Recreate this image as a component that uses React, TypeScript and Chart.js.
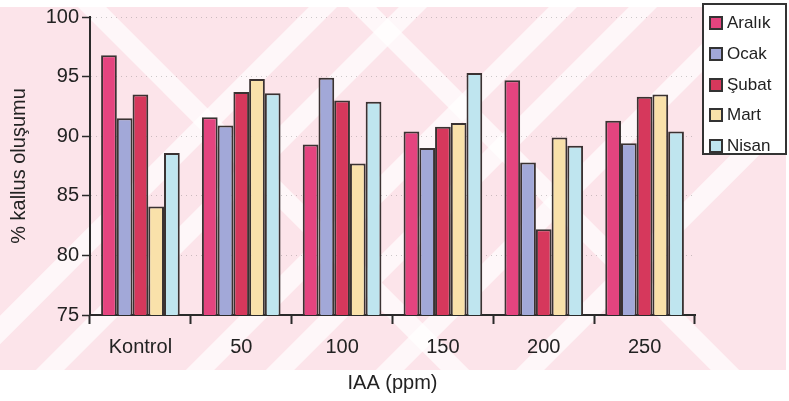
import React, { useEffect, useRef } from "react";
import { Chart, registerables } from "chart.js";

Chart.register(...registerables);

const categories = ["Kontrol", "50", "100", "150", "200", "250"];
const seriesNames = ["Aralık", "Ocak", "Şubat", "Mart", "Nisan"];
const aralik = [96.8, 91.6, 89.3, 90.4, 94.7, 91.3];
const ocak = [91.5, 90.9, 94.9, 89.0, 87.8, 89.4];
const subat = [93.5, 93.7, 93.0, 90.8, 82.2, 93.3];
const mart = [84.1, 94.8, 87.7, 91.1, 89.9, 93.5];
const nisan = [88.6, 93.6, 92.9, 95.3, 89.2, 90.4];
const yMin = 75;
const yMax = 100;
const yStep = 5;
const xTitle = "IAA (ppm)";
const yTitle = "% kallus oluşumu";

const seriesValues = [aralik, ocak, subat, mart, nisan];
const colors = ["#e4447f", "#a2a8d8", "#d6385c", "#f9e1aa", "#bfe5ef"];
const FONT = "'Liberation Sans', Arial, Helvetica, sans-serif";

const bgPlugin = {
  id: "scanBg",
  beforeDraw(chart: any) {
    const ctx = chart.ctx as CanvasRenderingContext2D;
    ctx.save();
    ctx.fillStyle = "#ffffff";
    ctx.fillRect(0, 0, chart.width, chart.height);
    ctx.beginPath();
    ctx.rect(0, 7, 786, 363);
    ctx.clip();
    ctx.fillStyle = "#fce4ea";
    ctx.fillRect(0, 7, 786, 363);
    ctx.strokeStyle = "rgba(255,255,255,0.7)";
    ctx.lineWidth = 20;
    for (const c of [330, 420, 570, 650, 760, 900]) {
      ctx.beginPath();
      ctx.moveTo(c, 0);
      ctx.lineTo(c - 420, 420);
      ctx.stroke();
    }
    for (const c of [85, 355]) {
      ctx.beginPath();
      ctx.moveTo(c, 0);
      ctx.lineTo(c + 420, 420);
      ctx.stroke();
    }
    ctx.restore();
  },
};

export default function App() {
  const ref = useRef<HTMLCanvasElement | null>(null);

  useEffect(() => {
    if (!ref.current) return;
    const chart = new Chart(ref.current, {
      type: "bar",
      data: {
        labels: categories,
        datasets: seriesNames.map((name, i) => ({
          label: name,
          data: seriesValues[i],
          backgroundColor: colors[i],
          borderColor: "#3a3232",
          borderWidth: 2,
          borderSkipped: "start",
          categoryPercentage: 0.78,
          barPercentage: 1,
        })),
      },
      options: {
        animation: false,
        responsive: false,
        maintainAspectRatio: false,
        layout: { padding: { left: 0, top: 17, right: 94, bottom: 0 } },
        plugins: {
          legend: { display: false },
          tooltip: { enabled: false },
        },
        scales: {
          x: {
            grid: {
              display: true,
              drawOnChartArea: false,
              drawTicks: true,
              tickLength: 9,
              tickColor: "#2a2a2a",
              tickWidth: 2,
              offset: true,
            },
            border: { display: true, color: "#2a2a2a", width: 2 },
            ticks: {
              color: "#222",
              font: { family: FONT, size: 20 },
              padding: 11,
            },
            title: {
              display: true,
              text: xTitle,
              color: "#222",
              font: { family: FONT, size: 20 },
              padding: { top: 0, bottom: 6 },
            },
            afterFit(scale: any) {
              scale.height = 86;
            },
          },
          y: {
            min: yMin,
            max: yMax,
            grid: {
              display: true,
              drawOnChartArea: true,
              color: "rgba(110,110,110,0.35)",
              lineWidth: 1,
              drawTicks: true,
              tickLength: 8,
              tickColor: "#2a2a2a",
              tickWidth: 1.5,
            },
            border: { display: true, color: "#2a2a2a", width: 2, dash: [1, 4] },
            ticks: {
              stepSize: yStep,
              color: "#222",
              font: { family: FONT, size: 20 },
              padding: 3,
            },
            title: {
              display: true,
              text: yTitle,
              color: "#222",
              font: { family: FONT, size: 20 },
              padding: { top: 7, bottom: 0 },
            },
            afterFit(scale: any) {
              scale.width = 90;
            },
          },
        },
      },
      plugins: [bgPlugin],
    });
    return () => chart.destroy();
  }, []);

  const rowTops = [8, 39, 70, 100, 131];

  return (
    <div style={{ position: "absolute", left: 0, top: 0, width: 789, height: 401, background: "#fff" }}>
      <canvas ref={ref} width={789} height={401} style={{ display: "block", width: 789, height: 401 }} />
      <div
        style={{
          position: "absolute",
          left: 702,
          top: 3,
          width: 81,
          height: 148,
          border: "2px solid #333",
          background: "#fff",
          fontFamily: FONT,
        }}
      >
        {seriesNames.map((name, i) => (
          <div
            key={name}
            style={{
              position: "absolute",
              left: 5,
              top: rowTops[i],
              height: 20,
              display: "flex",
              alignItems: "center",
              whiteSpace: "nowrap",
            }}
          >
            <span
              style={{
                display: "inline-block",
                width: 10,
                height: 10,
                border: "2px solid #333",
                background: colors[i],
                marginRight: 4,
              }}
            />
            <span style={{ fontSize: 17, color: "#222", lineHeight: "20px" }}>{name}</span>
          </div>
        ))}
      </div>
    </div>
  );
}
